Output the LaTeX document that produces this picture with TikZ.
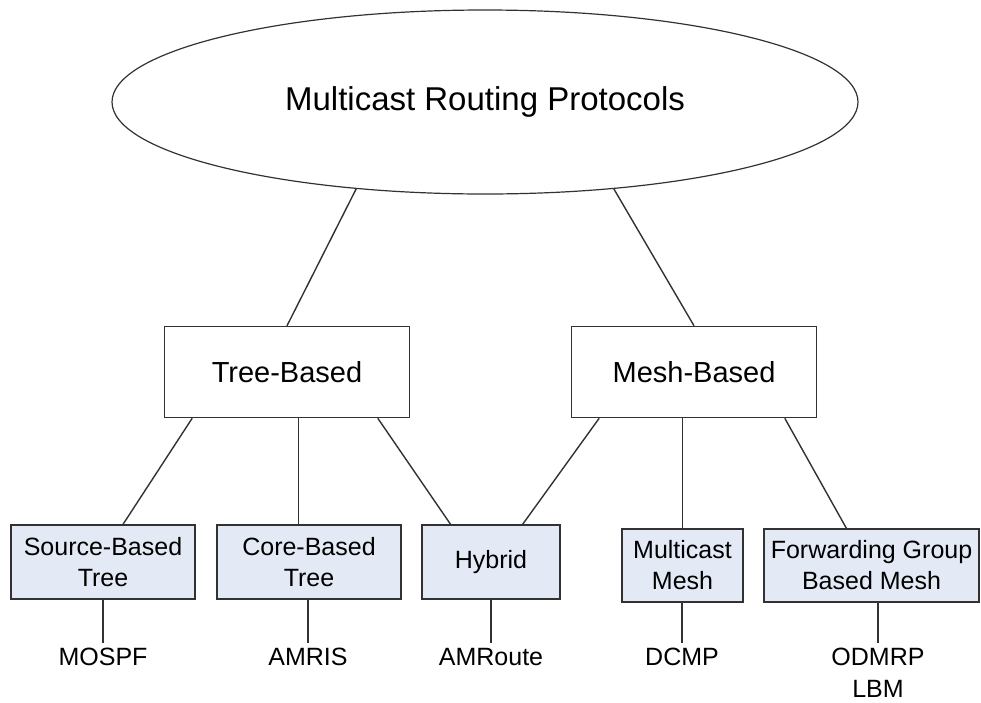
\documentclass[tikz,border=0pt]{standalone}
\usepackage{fontspec}
\setmainfont{Liberation Sans}
\usepackage{tikz}
\usetikzlibrary{shapes.geometric}
\definecolor{boxfill}{RGB}{228,234,245}
\definecolor{linegray}{RGB}{50,50,50}
\tikzset{root/.style={ellipse,draw=linegray,line width=1.2pt,minimum width=746pt,minimum height=184pt,
		font=\fontsize{33}{38}\selectfont},
	family/.style={rectangle,draw=linegray,line width=1.5pt,minimum width=245pt,minimum height=91pt,
		font=\fontsize{29}{34}\selectfont},
	kind/.style={rectangle,draw=linegray,line width=1.5pt,fill=boxfill,inner sep=1pt,align=center,
		font=\fontsize{25}{31}\selectfont},
	proto/.style={anchor=north,inner sep=0pt,outer sep=5pt,align=center,
		font=\fontsize{25}{32}\selectfont},
	link/.style={draw=linegray,line width=1.4pt}}

\begin{document}
\begin{tikzpicture}[x=1pt,y=-1pt]
\useasboundingbox (0,0) rectangle (981,702);
% top
\node [root] (mrp) at (485,102) {Multicast Routing Protocols};
% families
\node [family] (tree) at (287,372) {Tree-Based};
\node [family] (mesh) at (694,372) {Mesh-Based};
% kinds
\node [kind,minimum width=184pt,minimum height=74pt] (source) at (103,562) {Source-Based\\Tree};
\node [kind,minimum width=184pt,minimum height=74pt] (core) at (309,562) {Core-Based\\Tree};
\node [kind,minimum width=138pt,minimum height=74pt] (hybrid) at (491,562) {Hybrid};
\node [kind,minimum width=121pt,minimum height=73pt] (mcmesh) at (682.5,565.5) {Multicast\\Mesh};
\node [kind,minimum width=215pt,minimum height=73pt] (fgmesh) at (871.5,565.5) {Forwarding Group\\Based Mesh};
% protocols
\node [proto] (mospf) at (103,643) {MOSPF};
\node [proto] (amris) at (308,643) {AMRIS};
\node [proto] (amroute) at (491,643) {AMRoute};
\node [proto] (dcmp) at (682,643) {DCMP};
\node [proto] (odmrp) at (878,643) {ODMRP\\LBM};

\path [link] (mrp.214) -- (tree.north);
\path [link] (mrp.326) -- (mesh.north);
\path [link] (tree.206) -- (source.62);
\path [link] (tree.284) -- (tree.284 |- core.north);
\path [link] (tree.333) -- (hybrid.137);
\path [link] (mesh.206) -- (hybrid.50);
\path [link] (mcmesh.north) -- (mcmesh.north |- mesh.south);
\path [link] (mesh.333) -- (fgmesh.124);
\path [link] (source) -- (mospf);
\path [link] (amris.north |- core.south) -- (amris);
\path [link] (hybrid) -- (amroute);
\path [link] (dcmp.north |- mcmesh.south) -- (dcmp);
\path [link] (odmrp.north |- fgmesh.south) -- (odmrp);
\end{tikzpicture}
\end{document}
